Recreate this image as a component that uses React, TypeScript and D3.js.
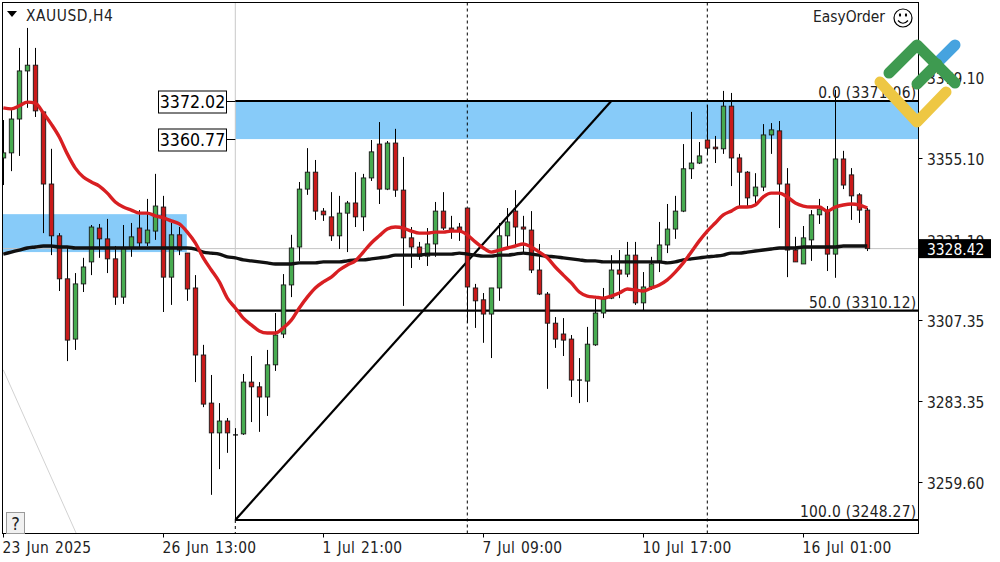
import React from "react";
import * as d3 from "d3";

// H4 candles, one entry per bar
const opens = [
  3355.2, 3356.7, 3366.7, 3380.9, 3382.6, 3368.8, 3347.5, 3332.2, 3319.5, 3301.7,
  3318.0, 3324.5, 3334.5, 3331.3, 3325.4, 3314.1, 3328.6, 3334.5, 3330.1, 3333.6,
  3340.7, 3320.0, 3332.5, 3327.1, 3316.8, 3297.0, 3282.8, 3274.0, 3277.5, 3273.4,
  3273.7, 3289.0, 3287.6, 3284.6, 3294.1, 3303.2, 3317.7, 3328.9, 3346.0, 3351.0,
  3339.5, 3337.8, 3332.2, 3338.9, 3341.9, 3337.8, 3349.3, 3359.3, 3346.0, 3359.6,
  3345.7, 3331.6, 3328.9, 3326.2, 3329.8, 3339.5, 3334.5, 3334.8, 3340.4, 3316.8,
  3313.3, 3309.1, 3316.8, 3332.2, 3339.5, 3334.8, 3333.9, 3322.1, 3315.0, 3306.4,
  3303.2, 3301.7, 3289.6, 3289.3, 3300.0, 3309.4, 3313.8, 3322.1, 3320.9, 3326.5,
  3312.4, 3317.1, 3324.8, 3329.5, 3334.2, 3339.5, 3352.0, 3353.7, 3360.5, 3358.4,
  3357.9, 3370.5, 3355.2, 3351.0, 3344.0, 3346.6, 3362.0, 3363.2, 3347.5, 3328.0,
  3323.9, 3331.0, 3338.4, 3339.5, 3326.8, 3354.9, 3350.2, 3344.3, 3339.8,
];
const highs = [
  3366.4, 3369.4, 3387.7, 3393.6, 3387.7, 3368.8, 3357.9, 3333.0, 3328.6, 3321.2,
  3325.7, 3335.4, 3335.7, 3337.2, 3329.2, 3335.4, 3336.0, 3339.8, 3343.1, 3350.5,
  3344.0, 3336.0, 3334.8, 3327.1, 3320.6, 3300.0, 3291.1, 3282.8, 3278.4, 3275.4,
  3291.4, 3296.7, 3289.0, 3298.5, 3309.4, 3320.9, 3332.5, 3348.1, 3358.1, 3354.6,
  3340.4, 3345.1, 3344.0, 3342.5, 3351.0, 3350.5, 3360.5, 3365.8, 3360.2, 3363.8,
  3355.5, 3334.8, 3330.4, 3334.5, 3342.2, 3345.1, 3338.1, 3336.0, 3340.4, 3318.0,
  3315.3, 3316.8, 3336.0, 3340.4, 3345.7, 3338.1, 3339.5, 3329.8, 3315.6, 3308.2,
  3307.9, 3302.9, 3296.1, 3305.3, 3313.5, 3316.8, 3326.5, 3328.0, 3330.4, 3330.4,
  3321.5, 3326.0, 3336.3, 3341.6, 3344.0, 3359.3, 3368.8, 3359.9, 3370.8, 3361.7,
  3375.0, 3374.4, 3356.4, 3351.3, 3350.7, 3365.2, 3365.5, 3366.1, 3352.2, 3331.9,
  3335.1, 3339.8, 3343.1, 3341.0, 3375.3, 3357.3, 3352.2, 3344.8, 3340.4,
];
const lows = [
  3347.2, 3351.3, 3355.8, 3370.0, 3367.3, 3333.0, 3326.5, 3315.9, 3295.2, 3298.5,
  3315.6, 3320.6, 3325.7, 3321.2, 3311.8, 3312.1, 3326.0, 3328.6, 3329.2, 3331.0,
  3309.7, 3311.8, 3326.5, 3313.0, 3289.0, 3281.6, 3255.7, 3263.3, 3268.1, 3248.3,
  3273.4, 3277.2, 3274.3, 3279.0, 3292.3, 3302.0, 3314.1, 3324.8, 3344.3, 3336.9,
  3336.6, 3330.7, 3328.3, 3327.4, 3334.8, 3333.6, 3348.4, 3341.6, 3345.7, 3343.7,
  3311.5, 3322.7, 3325.1, 3323.3, 3326.0, 3333.9, 3331.3, 3330.7, 3306.5, 3305.0,
  3300.6, 3296.1, 3313.0, 3328.9, 3329.5, 3327.1, 3321.2, 3314.7, 3287.0, 3299.1,
  3296.7, 3284.6, 3282.8, 3283.1, 3299.7, 3307.9, 3313.5, 3313.8, 3320.0, 3311.8,
  3310.3, 3316.2, 3321.5, 3327.1, 3331.3, 3339.2, 3349.0, 3353.4, 3356.1, 3353.7,
  3356.4, 3346.9, 3340.7, 3341.0, 3341.0, 3345.4, 3356.4, 3334.5, 3320.0, 3324.5,
  3323.9, 3324.8, 3335.7, 3321.8, 3319.8, 3346.0, 3336.9, 3336.0, 3327.7,
];
const closes = [
  3356.7, 3366.7, 3380.9, 3382.6, 3369.1, 3347.5, 3332.2, 3319.5, 3301.4, 3318.0,
  3323.0, 3334.8, 3331.3, 3325.4, 3314.1, 3328.6, 3331.9, 3330.1, 3333.9, 3341.0,
  3320.0, 3332.5, 3328.0, 3316.5, 3297.0, 3282.5, 3274.0, 3277.5, 3274.0, 3273.1,
  3289.0, 3287.6, 3284.6, 3294.1, 3302.9, 3317.7, 3328.6, 3346.0, 3351.0, 3339.5,
  3338.4, 3332.2, 3338.9, 3341.9, 3337.8, 3349.3, 3357.0, 3346.0, 3359.6, 3345.7,
  3331.6, 3328.9, 3326.2, 3329.8, 3339.5, 3334.5, 3333.6, 3333.6, 3317.1, 3313.0,
  3309.1, 3316.8, 3332.2, 3336.3, 3334.8, 3334.2, 3322.1, 3315.0, 3306.4, 3301.7,
  3301.4, 3289.6, 3289.3, 3300.2, 3309.4, 3313.5, 3322.1, 3320.9, 3326.5, 3312.4,
  3317.1, 3323.9, 3329.5, 3334.2, 3339.5, 3352.0, 3353.7, 3355.8, 3358.1, 3357.9,
  3370.5, 3355.2, 3351.0, 3343.4, 3346.6, 3362.0, 3363.5, 3347.5, 3328.0, 3324.5,
  3331.6, 3338.4, 3340.1, 3326.8, 3354.9, 3347.2, 3344.0, 3339.8, 3328.42,
];

// fast moving average (red)
const fastMa = [
  3370.0, 3369.7, 3370.6, 3371.7, 3371.4, 3368.5, 3365.2, 3361.4, 3356.4, 3352.2,
  3349.6, 3348.1, 3346.9, 3344.8, 3342.2, 3340.7, 3339.8, 3338.9, 3338.9, 3338.1,
  3337.5, 3336.6, 3335.7, 3333.3, 3330.1, 3325.7, 3322.1, 3318.6, 3313.8, 3310.9,
  3307.9, 3305.9, 3304.1, 3303.5, 3303.5, 3305.0, 3307.3, 3310.9, 3314.1, 3316.8,
  3318.6, 3320.0, 3322.1, 3323.6, 3324.8, 3327.4, 3330.1, 3332.2, 3334.2, 3334.8,
  3334.5, 3333.6, 3333.0, 3333.0, 3333.3, 3333.3, 3333.6, 3333.6, 3332.5, 3330.4,
  3328.6, 3327.4, 3328.0, 3328.6, 3329.2, 3329.8, 3328.9, 3327.4, 3325.7, 3323.0,
  3320.6, 3318.3, 3315.6, 3314.4, 3314.1, 3313.8, 3314.4, 3315.3, 3316.5, 3316.2,
  3315.9, 3316.8, 3317.7, 3319.2, 3321.5, 3324.2, 3327.4, 3330.7, 3333.6, 3336.0,
  3338.4, 3339.5, 3340.7, 3340.7, 3341.3, 3343.7, 3344.8, 3344.8, 3343.7, 3341.9,
  3341.0, 3340.7, 3340.7, 3339.5, 3340.7, 3341.3, 3341.6, 3341.3, 3340.4,
];

// slow moving average (black)
const slowMa = [
  3326.8, 3327.4, 3328.0, 3328.6, 3328.9, 3329.2, 3329.2, 3328.9, 3328.9, 3328.6,
  3328.6, 3328.6, 3328.6, 3328.6, 3328.6, 3328.6, 3328.6, 3328.6, 3328.6, 3328.6,
  3328.6, 3328.6, 3328.6, 3328.6, 3328.3, 3327.4, 3327.1, 3326.8, 3326.0, 3325.7,
  3325.1, 3324.8, 3324.5, 3324.2, 3323.9, 3323.9, 3323.9, 3324.2, 3324.2, 3324.2,
  3324.5, 3324.5, 3324.5, 3324.8, 3325.1, 3325.1, 3325.4, 3325.7, 3326.0, 3326.5,
  3326.5, 3326.5, 3326.5, 3326.8, 3326.8, 3326.8, 3326.8, 3327.1, 3326.8, 3326.5,
  3326.2, 3326.2, 3326.5, 3326.5, 3326.8, 3327.1, 3326.8, 3326.5, 3326.2, 3326.0,
  3325.7, 3325.4, 3325.1, 3324.8, 3324.8, 3324.5, 3324.5, 3324.5, 3324.5, 3324.5,
  3324.5, 3324.5, 3324.5, 3324.2, 3324.5, 3325.1, 3325.4, 3325.7, 3326.0, 3326.2,
  3326.5, 3327.1, 3327.1, 3327.4, 3327.7, 3328.0, 3328.3, 3328.6, 3328.6, 3328.6,
  3328.9, 3328.9, 3328.9, 3328.9, 3328.9, 3329.2, 3329.2, 3329.2, 3329.2,
];

const priceTicks = ["3379.10", "3355.10", "3331.10", "3307.35", "3283.35", "3259.60"];
const timeTicks = ["23 Jun 2025", "26 Jun 13:00", "1 Jul 21:00", "7 Jul 09:00", "10 Jul 17:00", "16 Jul 01:00"];
const timeTickStep = 20;

const fibHigh = 3372.02;
const fibLow = 3248.27;
const fibMid = 3310.12;
const fibAnchorBars = [29, 76];
const zoneLow = 3360.77;
const oldZone = [3338.6, 3327.4];
const oldZoneEndBar = 23;
const lastPrice = 3328.42;
const dashedBars = [58, 88];
const greyLine = { bars: [0, 9.1], prices: [3292.6, 3244.4] };

const left = 2.5;
const right = 918.5;
const top = 2.5;
const bottom = 533.5;
const labelFont = "'DejaVu Sans Condensed', 'DejaVu Sans'";
const labelSize = 15.4;
const upColor = "#47ab50";
const downColor = "#c91a1a";
const zoneColor = "#87cbf9";

const x = d3.scaleLinear().domain([0, 108]).range([3.3, 867.3]);
const y = d3.scaleLinear().domain([fibLow, fibHigh]).range([520, 101]);

const fastLine = d3.line<number>().x((_, i) => x(i)).y((d) => y(d)).curve(d3.curveMonotoneX);
const slowLine = d3.line<number>().x((_, i) => x(i)).y((d) => y(d)).curve(d3.curveMonotoneX);

const App: React.FC = () => {
  const fibLeft = x(fibAnchorBars[0]);
  return (
    <svg
      width={1000}
      height={562}
      style={{ position: "absolute", left: 0, top: 0, background: "#fff", fontFamily: labelFont, fontStretch: "condensed" }}
    >
      <defs>
        <clipPath id="plot">
          <rect x={left + 0.5} y={top} width={right - left - 0.5} height={bottom - top} />
        </clipPath>
      </defs>

      <g clipPath="url(#plot)">
        {/* zones */}
        <rect x={fibLeft} y={y(fibHigh)} width={right - fibLeft} height={y(zoneLow) - y(fibHigh)} fill={zoneColor} />
        <rect x={left} y={y(oldZone[0])} width={x(oldZoneEndBar) - left - 0.5} height={y(oldZone[1]) - y(oldZone[0])} fill={zoneColor} />

        {/* grey helper lines */}
        <line x1={left} x2={right} y1={y(lastPrice)} y2={y(lastPrice)} stroke="#c4c4c4" strokeWidth={1} />
        <line x1={fibLeft} x2={fibLeft} y1={top} y2={y(closes[29])} stroke="#c8c8c8" strokeWidth={1} />
        <line
          x1={x(greyLine.bars[0])}
          y1={y(greyLine.prices[0])}
          x2={x(greyLine.bars[1])}
          y2={y(greyLine.prices[1])}
          stroke="#d2d2d2"
          strokeWidth={1}
        />

        {/* dashed separators */}
        {dashedBars.map((b) => (
          <line key={b} x1={x(b)} x2={x(b)} y1={top} y2={bottom} stroke="#000" strokeWidth={1} strokeDasharray="3 3" />
        ))}
        <line x1={fibLeft} x2={fibLeft} y1={y(fibLow)} y2={bottom} stroke="#000" strokeWidth={1} strokeDasharray="3 3" />

        {/* fibo */}
        {[fibHigh, fibMid, fibLow].map((p) => (
          <line key={p} x1={fibLeft} x2={right} y1={y(p)} y2={y(p)} stroke="#000" strokeWidth={2.2} />
        ))}
        <line
          x1={x(fibAnchorBars[0])}
          y1={y(fibLow)}
          x2={x(fibAnchorBars[1])}
          y2={y(fibHigh)}
          stroke="#000"
          strokeWidth={2.2}
        />

        {/* candles */}
        {opens.map((o, i) => {
          const c = closes[i];
          const cx = Math.round(x(i)) + 0.5;
          const t = y(Math.max(o, c));
          const b = y(Math.min(o, c));
          const doji = b - t < 1.5;
          return (
            <g key={i}>
              <line x1={cx} x2={cx} y1={y(highs[i])} y2={y(lows[i])} stroke="#000" strokeWidth={1} />
              {doji ? (
                <line x1={cx - 2.5} x2={cx + 2.5} y1={t} y2={t} stroke="#000" strokeWidth={1.2} />
              ) : (
                <rect
                  x={cx - 2.2}
                  y={t}
                  width={4.4}
                  height={b - t}
                  fill={c > o ? upColor : downColor}
                  stroke="#1a1a1a"
                  strokeWidth={0.9}
                />
              )}
            </g>
          );
        })}

        {/* moving averages */}
        <path d={slowLine(slowMa) ?? ""} fill="none" stroke="#111" strokeWidth={3.4} />
        <path d={fastLine(fastMa) ?? ""} fill="none" stroke="#d81f22" strokeWidth={3.4} />

        {/* fibo level captions */}
        <g fontSize={labelSize} fill="#222" textAnchor="end" letterSpacing={0.3}>
          <text x={916.5} y={y(fibHigh) - 3}>
            0.0 (3371.06)
          </text>
          <text x={916.5} y={y(fibMid) - 3}>
            50.0 ({fibMid})
          </text>
          <text x={916.5} y={y(fibLow) - 3}>
            100.0 ({fibLow})
          </text>
        </g>
      </g>

      {/* frame */}
      <rect x={left} y={top} width={right - left} height={bottom - top} fill="none" stroke="#000" strokeWidth={1} />

      {/* right axis */}
      {priceTicks.map((t) => (
        <g key={t} transform={`translate(0,${Math.round(y(+t)) + 0.5})`}>
          <line x1={right} x2={right + 4} stroke="#000" />
          <text x={927} y={6} fontSize={labelSize} fill="#222">
            {t}
          </text>
        </g>
      ))}
      <rect x={919} y={y(lastPrice) - 9.5} width={72} height={19} fill="#000" />
      <text x={927} y={y(lastPrice) + 6} fontSize={labelSize} fill="#fff">
        {lastPrice}
      </text>

      {/* bottom axis */}
      {timeTicks.map((t, k) => (
        <g key={t} transform={`translate(${Math.round(x(k * timeTickStep)) + 0.5},0)`}>
          <line y1={bottom} y2={bottom + 4} stroke="#000" />
          <text x={-1} y={553} fontSize={labelSize} fill="#222" letterSpacing={0.3} wordSpacing={1.2}>
            {t}
          </text>
        </g>
      ))}

      {/* zone price boxes */}
      {[fibHigh, zoneLow].map((p) => (
        <g key={p} transform={`translate(0,${Math.round(y(p)) + 0.5})`}>
          <line x1={226} x2={fibLeft} stroke="#000" />
          <rect x={158.5} y={-10.5} width={68} height={22} fill="#fff" stroke="#000" />
          <text x={192.5} y={6.8} textAnchor="middle" fontSize={17.6} fill="#000">
            {p}
          </text>
        </g>
      ))}

      {/* title */}
      <path d="M7,11 L17,11 L12,17 Z" fill="#000" />
      <text x={26} y={21} fontSize={labelSize} fill="#222" letterSpacing={0.55}>
        XAUUSD,H4
      </text>

      {/* EasyOrder + smiley */}
      <text x={813} y={22} fontSize={labelSize} fill="#222">
        EasyOrder
      </text>
      <g fill="none" stroke="#000" strokeWidth={1.2}>
        <circle cx={903} cy={18} r={9} />
        <path d="M898,20.5 Q903,26 908,20.5" />
      </g>
      <ellipse cx={900} cy={15} rx={1.1} ry={1.8} fill="#000" />
      <ellipse cx={906} cy={15} rx={1.1} ry={1.8} fill="#000" />

      {/* ? button */}
      <rect x={6.5} y={512.5} width={18} height={21} fill="#f1f1f1" stroke="#9a9a9a" />
      <text x={15.5} y={530} textAnchor="middle" fontSize={18} fill="#222">
        ?
      </text>

      {/* logo over the chart corner */}
      <g fill="none" strokeLinecap="round" strokeLinejoin="round" strokeWidth={11}>
        <path d="M955,45 L938,62" stroke="#46a3df" />
        <path d="M889,73 L917,45 L955,83" stroke="#3e9a50" />
        <path d="M917,84 L937,64" stroke="#3e9a50" />
        <path d="M880,82 L917,122 L946,92" stroke="#eec743" />
      </g>
    </svg>
  );
};

export default App;
